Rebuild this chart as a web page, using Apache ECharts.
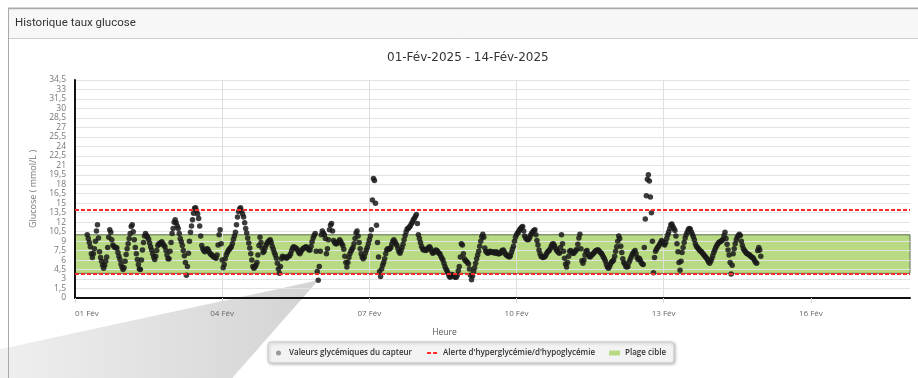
<!DOCTYPE html>
<html>
<head>
<meta charset="utf-8">
<script src="https://cdn.jsdelivr.net/npm/echarts@6/dist/echarts.min.js"></script>
<style>
  html, body { margin: 0; padding: 0; background: #fff; }
  #chart { width: 918px; height: 378px; }
</style>
</head>
<body>
<div id="chart"></div>
<script>
// Panel and chart titles
const panelTitle = 'Historique taux glucose';
const periodTitle = '01-Fév-2025 - 14-Fév-2025';

// Time axis: hours counted from 01 Fév 00:00, labelled every 3 days
const dayTicks = [1, 4, 7, 10, 13, 16];
const monthLabel = 'Fév';
const axisEndHour = 408.5;

// Sensor readings: one every 30 min, first one on 01 Fév at 06:00 (mmol/L)
const firstSampleHour = 6;
const sampleStepHours = 0.5;
const glucose = [
  // 01 Fév 06:00
  10.0, 9.4, 8.8, 8.1, 7.0, 6.4, 7.0, 7.8, 9.0, 10.6, 11.6, 9.5,
  // 01 Fév 12:00
  7.3, 6.4, 5.8, 5.2, 4.7, 5.2, 5.8, 6.5, 8.0, 9.6, 10.8, 10.4, 9.2, 8.4, 8.2, 8.0, 8.0, 7.9, 7.2, 6.6, 6.1, 5.4, 4.9, 4.5,
  // 02 Fév
  4.8, 5.8, 6.9, 7.8, 8.6, 9.4, 10.2, 11.3, 11.6, 10.5, 9.2, 8.0, 7.0, 6.1, 5.3, 4.6, 4.5, 6.0, 7.6, 8.8, 9.8, 10.2, 9.9, 9.6,
  9.3, 8.7, 8.1, 7.6, 7.0, 6.5, 6.1, 6.6, 7.5, 8.3, 8.6, 8.5, 8.8, 8.9, 8.6, 8.3, 8.1, 7.5, 6.8, 6.2, 6.2, 7.4, 8.8, 10.2,
  // 03 Fév
  11.0, 12.0, 12.4, 11.9, 11.4, 11.0, 10.2, 9.4, 8.9, 8.3, 7.5, 6.7, 5.6, 3.6, 5.0, 7.1, 9.0, 10.4, 11.4, 12.4, 13.4, 14.2, 14.3, 13.8,
  13.3, 12.6, 11.4, 9.8, 8.3, 7.8, 7.5, 7.3, 7.5, 7.8, 7.7, 7.4, 7.1, 6.9, 6.8, 6.6, 6.5, 6.4, 6.3, 6.8, 8.4, 10.0, 10.8, 8.6,
  // 04 Fév
  6.0, 4.8, 5.3, 6.2, 6.8, 7.2, 7.5, 7.7, 7.9, 8.1, 8.6, 9.3, 9.8, 10.4, 11.6, 12.8, 13.7, 14.1, 14.3, 13.8, 13.3, 12.8, 11.9, 11.0,
  10.3, 9.5, 8.7, 7.9, 7.0, 6.0, 5.0, 4.7, 4.9, 5.2, 5.6, 6.8, 8.3, 9.6, 8.8, 7.9, 7.2, 7.4, 7.9, 8.4, 8.7, 8.9, 9.1, 9.2,
  // 05 Fév
  8.8, 8.2, 7.7, 7.2, 6.8, 6.3, 5.5, 4.6, 3.9, 5.0, 6.2, 6.6, 6.4, 6.5, 6.4, 6.3, 6.5, 6.6, 6.7, 7.0, 7.5, 7.9, 8.1, 8.0,
  7.9, 7.8, 7.5, 7.2, 7.0, 7.3, 7.6, 7.8, 7.9, 8.0, 8.1, 8.0, 7.8, 7.6, 7.6, 8.2, 8.9, 9.5, 9.9, 10.2, 7.4, 4.2, 2.8, 5.0,
  // 06 Fév
  7.4, 10.0, 10.6, 10.3, 10.0, 9.4, 7.0, 7.8, 9.2, 10.8, 11.5, 11.8, 10.6, 9.1, 8.8, 8.6, 8.6, 8.8, 9.0, 9.2, 8.9, 8.6, 8.3, 7.7,
  6.6, 5.6, 4.9, 5.6, 6.4, 7.0, 7.4, 7.7, 8.0, 8.6, 9.4, 10.3, 10.6, 9.8, 8.8, 7.8, 7.0, 6.5, 6.2, 6.5, 7.1, 7.6, 8.0, 8.6,
  // 07 Fév
  9.2, 9.8, 10.8, 15.5, 18.9, 18.6, 15.0, 11.5, 8.8, 6.5, 4.2, 3.4, 4.6, 5.2, 5.6, 6.2, 7.0, 7.6, 7.8, 7.7, 7.8, 8.0, 8.5, 9.0,
  9.2, 8.9, 8.6, 8.3, 7.8, 7.3, 7.1, 7.5, 8.0, 8.5, 9.2, 9.9, 10.5, 10.9, 11.0, 11.2, 11.4, 11.7, 12.0, 12.4, 12.6, 12.9, 13.2, 11.8,
  // 08 Fév
  10.0, 9.4, 8.8, 8.2, 7.8, 7.6, 7.7, 7.5, 7.6, 7.8, 8.0, 8.1, 7.8, 7.4, 7.1, 7.2, 7.4, 7.6, 7.5, 7.3, 7.1, 7.0, 6.6, 6.3,
  6.0, 5.5, 5.0, 4.6, 4.3, 3.9, 3.5, 3.3, 3.5, 3.7, 3.6, 3.4, 3.3, 3.3, 3.6, 4.3, 5.0, 6.5, 8.6, 8.4, 7.0, 6.2, 5.9, 5.8,
  // 09 Fév
  5.6, 5.4, 4.6, 3.6, 2.9, 3.5, 4.2, 4.8, 5.5, 6.2, 6.8, 7.4, 8.2, 9.0, 9.7, 10.1, 9.6, 7.9, 7.4, 7.2, 7.1, 7.2, 7.4, 7.3,
  7.2, 7.3, 7.2, 7.1, 7.3, 7.2, 7.0, 7.0, 7.1, 7.3, 7.5, 7.6, 7.3, 7.0, 6.8, 6.7, 6.6, 6.5, 6.7, 7.2, 7.7, 8.2, 9.0, 9.6,
  // 10 Fév
  10.0, 10.3, 10.5, 10.8, 11.0, 11.2, 11.3, 10.6, 9.8, 9.5, 9.3, 9.2, 9.3, 9.6, 10.0, 10.3, 10.5, 10.7, 10.8, 10.0, 9.1, 8.4, 7.6, 7.0,
  6.6, 6.5, 6.4, 6.5, 6.6, 6.9, 7.2, 7.4, 7.5, 7.8, 8.2, 8.5, 8.6, 8.3, 7.9, 7.6, 7.4, 7.2, 7.1, 8.0, 10.0, 8.6, 7.4, 6.3,
  // 11 Fév
  5.4, 4.9, 5.6, 6.6, 7.4, 7.5, 7.3, 7.1, 7.1, 7.3, 7.5, 7.7, 8.5, 9.5, 10.1, 7.8, 5.9, 5.5, 6.0, 6.8, 7.4, 7.5, 7.0, 6.6,
  6.5, 6.7, 6.9, 7.0, 7.2, 7.4, 7.5, 7.6, 7.6, 7.4, 7.2, 7.1, 6.8, 6.5, 6.2, 5.8, 5.3, 4.9, 4.7, 5.0, 5.4, 5.7, 5.8, 6.0,
  // 12 Fév
  6.6, 7.4, 8.1, 9.0, 9.8, 9.4, 8.2, 7.2, 6.2, 5.6, 5.4, 5.0, 4.9, 5.0, 5.6, 6.0, 6.4, 6.8, 7.1, 7.3, 7.5, 7.0, 6.4, 6.1,
  6.3, 6.0, 5.6, 5.4, 5.3, 8.0, 12.5, 16.2, 18.8, 19.5, 18.5, 16.0, 13.5, 9.0, 4.0, 6.4, 7.4, 7.7, 8.0, 8.2, 8.5, 8.8, 9.1, 8.9,
  // 13 Fév
  8.6, 8.4, 8.8, 9.4, 10.0, 10.5, 11.0, 11.6, 11.7, 11.3, 11.0, 10.7, 9.8, 8.6, 7.3, 5.6, 4.4, 5.8, 7.2, 8.0, 8.8, 9.5, 10.0, 10.4,
  10.8, 11.0, 10.9, 10.5, 10.1, 9.7, 9.2, 8.6, 8.2, 8.0, 7.8, 7.6, 7.4, 7.3, 7.1, 6.9, 6.7, 6.5, 6.3, 6.0, 5.7, 5.5, 5.8, 6.2,
  // 14 Fév
  6.7, 7.2, 7.6, 8.0, 8.3, 8.6, 8.8, 8.9, 9.0, 9.1, 9.3, 9.9, 10.4, 9.4, 8.5, 7.6, 6.8, 5.6, 3.8, 5.2, 7.0, 7.8, 8.6, 9.2,
  9.6, 9.9, 10.1, 9.9, 9.0, 8.3, 7.8, 7.5, 7.3, 7.1, 7.0, 6.9, 6.8, 6.6, 6.5, 6.4, 6.2, 5.9, 5.6, 5.5, 7.5, 8.0, 7.6, 6.6
];

// Alert thresholds and target range (mmol/L)
const hyperAlert = 13.9;
const hypoAlert = 3.9;
const targetRange = [3.9, 10.0];

// Reading the callout pointer points at (05 Fév 23:00)
const calloutSample = 226;

const seriesNames = [
  'Valeurs glycémiques du capteur',
  "Alerte d'hyperglycémie/d'hypoglycémie",
  'Plage cible'
];

const points = glucose.map((v, i) => [firstSampleHour + i * sampleStepHours, v]);
const tickHours = dayTicks.map(d => (d - 1) * 24);

const chart = echarts.init(document.getElementById('chart'), null, { renderer: 'canvas' });

const labelFont = 'Open Sans';

function panelGraphics(apex) {
  const els = [
    { id: 'card', type: 'rect', z: -20, silent: true,
      shape: { x: 8.5, y: 8.5, width: 930, height: 400 },
      style: { fill: '#fff', stroke: '#b3b3b3', lineWidth: 1 } },
    { id: 'cardTop', type: 'line', z: -19, silent: true,
      shape: { x1: 8, y1: 8.5, x2: 918, y2: 8.5 },
      style: { stroke: '#a9a9a9', lineWidth: 2 } },
    { id: 'head', type: 'rect', z: -19, silent: true,
      shape: { x: 9, y: 9.5, width: 920, height: 28.5 },
      style: { fill: '#f7f7f7' } },
    { id: 'headLine', type: 'line', z: -18, silent: true,
      shape: { x1: 9, y1: 38.5, x2: 918, y2: 38.5 },
      style: { stroke: '#cfcfcf', lineWidth: 1 } },
    { id: 'headText', type: 'text', z: -17, silent: true,
      x: 15, y: 23,
      style: { text: panelTitle, font: '11.5px Roboto', fill: '#333', verticalAlign: 'middle' } }
  ];
  if (apex) {
    els.push({ id: 'pointer', type: 'polygon', z: -5, silent: true,
      shape: { points: [[0, apex[1] + 69], apex, [apex[0] - 86, 378], [0, 378]] },
      style: {
        fill: new echarts.graphic.LinearGradient(0, 0, 1, 0, [
          { offset: 0, color: '#efefef' },
          { offset: 1, color: '#d3d3d3' }
        ])
      } });
    els.push({ id: 'cardLeft', type: 'line', z: -4, silent: true,
      shape: { x1: 8.5, y1: 8, x2: 8.5, y2: 378 },
      style: { stroke: '#a9a9a9', lineWidth: 1 } });
  }
  return els;
}

const option = {
  animation: false,
  backgroundColor: 'transparent',
  textStyle: { fontFamily: labelFont },
  title: {
    text: periodTitle,
    left: 387,
    top: 52,
    padding: 0,
    textStyle: { fontFamily: 'DejaVu Sans', fontSize: 12, fontWeight: 'normal', color: '#333' }
  },
  graphic: { elements: panelGraphics(null) },
  grid: { left: 75, right: 8, top: 80, bottom: 80, containLabel: false, outerBoundsMode: 'none' },
  legend: {
    left: 268,
    top: 342,
    itemWidth: 11,
    itemHeight: 5,
    itemGap: 14,
    padding: [7, 8, 6, 8],
    backgroundColor: '#f3f3f3',
    borderColor: '#c9c9c9',
    borderWidth: 1,
    borderRadius: 3,
    shadowColor: 'rgba(0,0,0,0.25)',
    shadowBlur: 3,
    shadowOffsetX: 1,
    shadowOffsetY: 1,
    selectedMode: false,
    textStyle: { fontFamily: labelFont, fontSize: 8, fontWeight: 600, color: '#333' },
    data: [
      { name: seriesNames[0], icon: 'circle', itemStyle: { color: '#888' } },
      { name: seriesNames[1], itemStyle: { opacity: 0 } },
      { name: seriesNames[2], icon: 'rect' }
    ]
  },
  xAxis: {
    type: 'value',
    min: 0,
    max: axisEndHour,
    interval: 72,
    name: 'Heure',
    nameLocation: 'middle',
    nameGap: 30,
    nameTextStyle: { fontFamily: labelFont, fontSize: 8.5, color: '#555', padding: [0, 96, 0, 0] },
    axisLine: { show: true, onZero: false, lineStyle: { color: '#111', width: 2 } },
    axisTick: { show: true, length: 5, customValues: tickHours, lineStyle: { color: '#cfd6e0' } },
    axisLabel: {
      customValues: tickHours,
      margin: 12,
      alignMinLabel: 'left',
      fontFamily: labelFont,
      fontSize: 8,
      color: '#666',
      formatter: v => {
        const day = Math.round(v / 24) + 1;
        return String(day).padStart(2, '0') + ' ' + monthLabel;
      }
    },
    splitLine: { show: true, showMinLine: false, showMaxLine: false, lineStyle: { color: '#dedede', width: 1 } }
  },
  yAxis: {
    type: 'value',
    min: 0,
    max: 34.5,
    interval: 1.5,
    name: 'Glucose ( mmol/L )',
    nameLocation: 'middle',
    nameGap: 35,
    nameTextStyle: { fontFamily: labelFont, fontSize: 9, color: '#777' },
    axisLine: { show: true, lineStyle: { color: '#111', width: 2 } },
    axisTick: { show: false },
    axisLabel: {
      margin: 9,
      fontFamily: labelFont,
      fontSize: 8.5,
      color: '#777',
      formatter: v => String(v).replace('.', ',')
    },
    splitLine: { show: true, lineStyle: { color: '#e3e3e3', width: 1 } }
  },
  series: [
    {
      name: seriesNames[0],
      type: 'scatter',
      data: points,
      symbolSize: 5.5,
      itemStyle: { color: '#1a1a1a', opacity: 0.85 },
      silent: true,
      z: 4
    },
    {
      name: seriesNames[1],
      type: 'line',
      data: [],
      symbol: 'none',
      itemStyle: { color: '#ff2a2a' },
      lineStyle: { color: '#ff2a2a', width: 2, type: [4, 2] },
      markLine: {
        silent: true,
        symbol: 'none',
        label: { show: false },
        lineStyle: { color: '#ff2a2a', width: 2, type: [4, 2] },
        data: [{ yAxis: hyperAlert }, { yAxis: hypoAlert }]
      },
      z: 3
    },
    {
      name: seriesNames[2],
      type: 'line',
      data: [],
      symbol: 'none',
      itemStyle: { color: '#b7da82' },
      lineStyle: { width: 0 },
      markArea: {
        silent: true,
        z: -1,
        itemStyle: { color: '#b7da82', borderColor: '#5e6b55', borderWidth: 1 },
        data: [[{ yAxis: targetRange[0] }, { yAxis: targetRange[1] }]]
      }
    }
  ]
};

chart.setOption(option);

// Anchor the callout pointer on its reading
const apex = chart.convertToPixel({ xAxisIndex: 0, yAxisIndex: 0 }, points[calloutSample]);
chart.setOption({ graphic: { elements: panelGraphics(apex) } });
</script>
</body>
</html>
